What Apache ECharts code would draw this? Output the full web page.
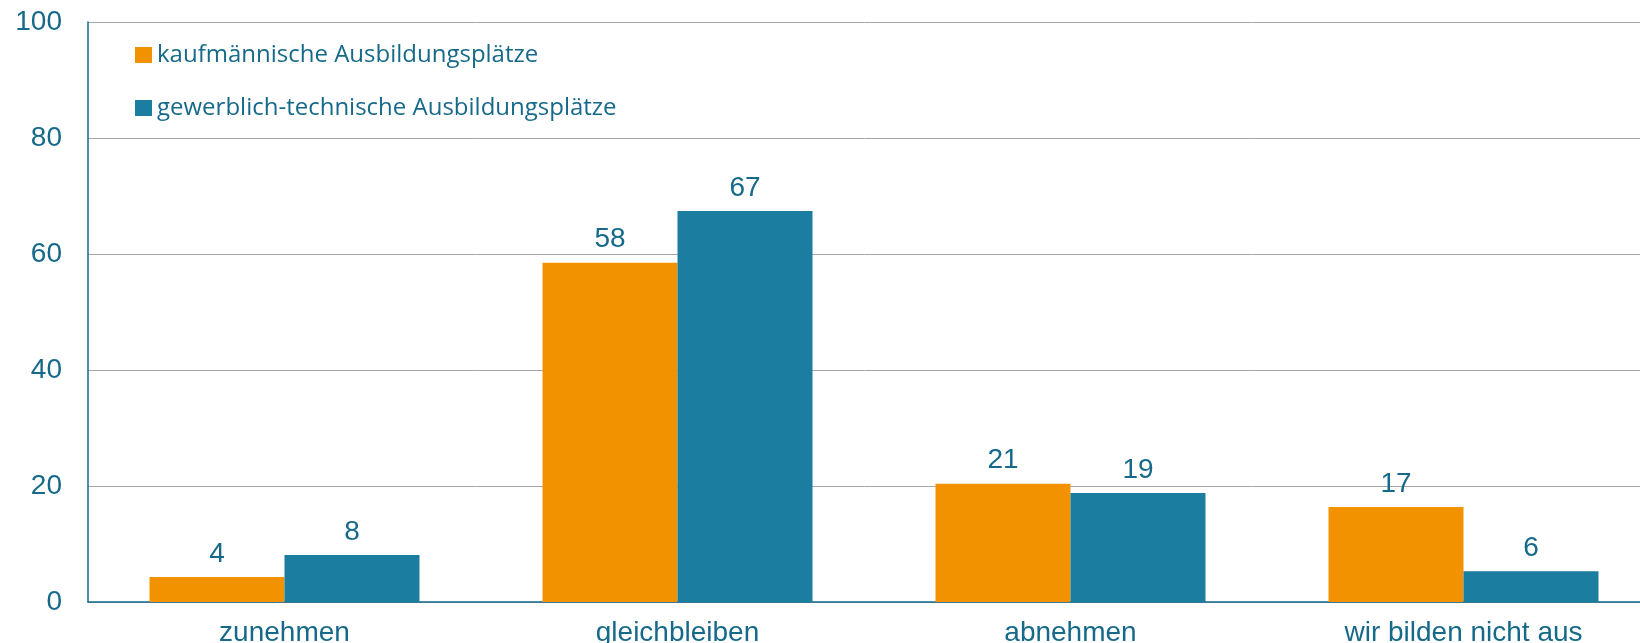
<!DOCTYPE html>
<html lang="de">
<head>
<meta charset="utf-8">
<title>Ausbildungsplätze</title>
<script src="https://cdn.jsdelivr.net/npm/echarts@6/dist/echarts.min.js"></script>
<style>
  html, body { margin: 0; padding: 0; background: #fff; }
  #main { width: 1640px; height: 643px; }
</style>
</head>
<body>
<div id="main"></div>
<script>
// Kategorien und Werte
var categories = ['zunehmen', 'gleichbleiben', 'abnehmen', 'wir bilden nicht aus'];
var seriesNames = ['kaufmännische Ausbildungsplätze', 'gewerblich-technische Ausbildungsplätze'];
var kaufmValues = [4.3, 58.5, 20.4, 16.4];
var gewerbValues = [8.1, 67.4, 18.8, 5.3];
var kaufmLabels = [4, 58, 21, 17];
var gewerbLabels = [8, 67, 19, 6];
var yTicks = [0, 20, 40, 60, 80, 100];

var textColor = '#17698a';
var myChart = echarts.init(document.getElementById('main'));

var option = {
    animation: false,
    // die Zeichenfläche läuft rechts etwas über den Rand hinaus
    grid: { left: 88, top: 22, width: 1572, height: 580, containLabel: false, outerBoundsMode: 'none' },
    legend: {
        orient: 'vertical',
        left: 130,
        top: 38,
        itemWidth: 17,
        itemHeight: 16,
        itemGap: 29,
        icon: 'rect',
        textStyle: { color: textColor, fontFamily: 'Open Sans', fontSize: 24 },
        data: seriesNames
    },
    xAxis: {
        type: 'category',
        data: categories,
        axisLine: { lineStyle: { color: textColor, width: 1.5 } },
        axisTick: { show: false },
        axisLabel: { color: textColor, fontFamily: 'Liberation Sans', fontSize: 28, margin: 17 }
    },
    yAxis: {
        type: 'value',
        min: yTicks[0],
        max: yTicks[yTicks.length - 1],
        interval: 20,
        axisLine: { show: true, lineStyle: { color: textColor, width: 1.5 } },
        axisTick: { show: false },
        splitLine: { lineStyle: { color: '#a6a6a6', width: 1 } },
        axisLabel: { color: textColor, fontFamily: 'Liberation Sans', fontSize: 28, margin: 26 }
    },
    series: [{
        name: seriesNames[0],
        type: 'bar',
        data: kaufmValues,
        barGap: '0%',
        barCategoryGap: '31.3%',
        itemStyle: { color: '#f39200' },
        label: {
            show: true, position: 'top', distance: 9,
            color: textColor, fontFamily: 'Liberation Sans', fontSize: 28,
            formatter: function (p) { return kaufmLabels[p.dataIndex]; }
        }
    }, {
        name: seriesNames[1],
        type: 'bar',
        data: gewerbValues,
        itemStyle: { color: '#1b7d9f' },
        label: {
            show: true, position: 'top', distance: 9,
            color: textColor, fontFamily: 'Liberation Sans', fontSize: 28,
            formatter: function (p) { return gewerbLabels[p.dataIndex]; }
        }
    }]
};
myChart.setOption(option);
</script>
</body>
</html>
